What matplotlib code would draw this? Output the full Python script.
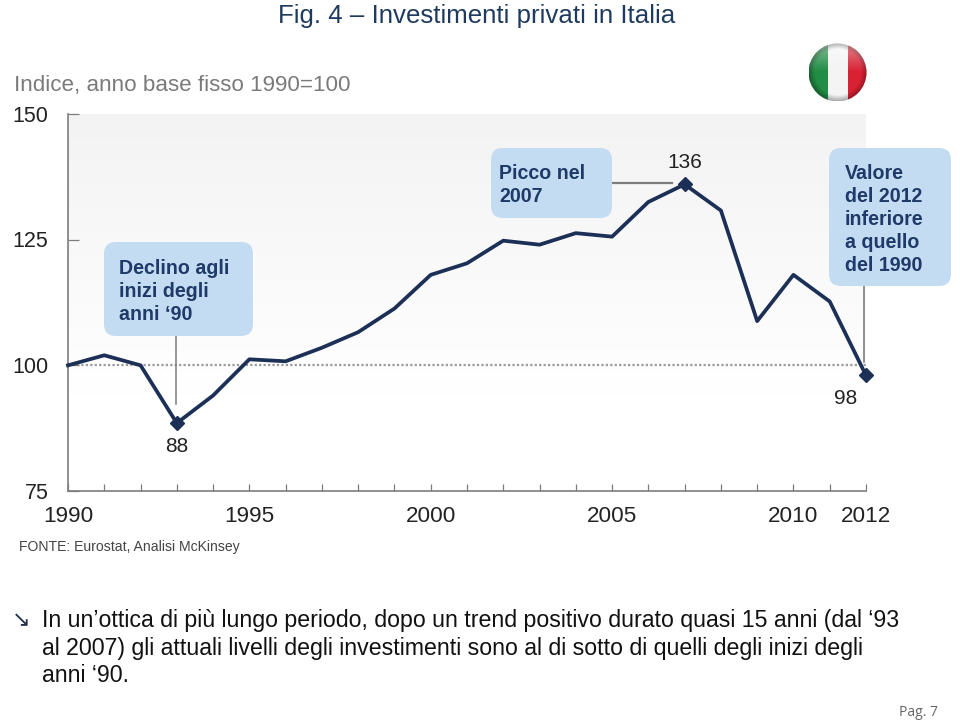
import matplotlib
matplotlib.use("Agg")
import matplotlib.pyplot as plt
import numpy as np
from matplotlib.patches import Circle, FancyBboxPatch

W, H = 960, 722

years = list(range(1990, 2013))
index_values = [100, 102, 100, 88.5, 94, 101.2, 100.8, 103.5, 106.6, 111.3, 118, 120.3,
                124.8, 124, 126.3, 125.6, 132.5, 136, 130.8, 108.8, 118, 112.7, 98]
y_ticks = [75, 100, 125, 150]
year_labels = [1990, 1995, 2000, 2005, 2010, 2012]
highlight_years = [1993, 2007, 2012]
highlight_labels = ["88", "136", "98"]

NAVY = "#1c3057"
BOX = "#c4dcf2"
BOX_TEXT = "#1f3a68"
GREY = "#7d7d7d"

plt.rcParams["font.family"] = ["Liberation Sans", "DejaVu Sans"]

fig = plt.figure(figsize=(W / 100, H / 100), dpi=100)

# plot area
ax = fig.add_axes([68 / W, 1 - 491 / H, (866 - 68) / W, (491 - 114) / H], zorder=1)
ax.set_xlim(1990, 2012)
ax.set_ylim(75, 150)
grad = np.linspace(0, 1, 256).reshape(-1, 1)
bg = matplotlib.colors.LinearSegmentedColormap.from_list("bg", ["#f3f3f3", "#ffffff"])
ax.imshow(grad, cmap=bg, extent=(1990, 2012, 75, 150), aspect="auto", origin="upper",
          vmin=0, vmax=0.75, zorder=0)

ax.axhline(100, color="#9a9a9a", linestyle=(0, (1, 1)), linewidth=1.6, zorder=1)
ax.plot(years, index_values, color=NAVY, linewidth=2.7, zorder=3, solid_joinstyle="round", clip_on=False)
hx = highlight_years
hy = [index_values[years.index(v)] for v in hx]
ax.plot(hx, hy, linestyle="none", marker="D", color=NAVY, markersize=7, zorder=4, clip_on=False)

for s in ["top", "right"]:
    ax.spines[s].set_visible(False)
for s in ["left", "bottom"]:
    ax.spines[s].set_color(GREY)
    ax.spines[s].set_linewidth(1.2)
ax.set_xticks(years)
ax.set_xticklabels([])
ax.set_yticks(y_ticks)
ax.set_yticklabels([])
ax.tick_params(axis="x", direction="in", length=5, width=0.9, color=GREY)
ax.tick_params(axis="y", direction="in", length=8, width=0.9, color=GREY)

for v in y_ticks:
    ax.annotate(str(v), xy=(0, v), xycoords=ax.get_yaxis_transform(), xytext=(-14, -1.5),
                textcoords="offset points", ha="right", va="center", fontsize=15.5, color="#222222")
for v in year_labels:
    ax.annotate(str(v), xy=(v, 0), xycoords=ax.get_xaxis_transform(), xytext=(0, -18.5),
                textcoords="offset points", ha="center", va="center", fontsize=16.2, color="#222222")

# value labels
offsets = [(0, -17), (0, 16), (-14.5, -17)]
for x, y, txt, off in zip(hx, hy, highlight_labels, offsets):
    ax.annotate(txt, xy=(x, y), xytext=off, textcoords="offset points", ha="center", va="center",
                fontsize=15, color="#222222", zorder=5)

# overlay in pixel coordinates for everything round the chart
page = fig.add_axes([0, 0, 1, 1], zorder=2)
page.patch.set_alpha(0)
page.axis("off")

# leader lines
page.plot([176, 176], [335, 404], color=GREY, linewidth=1.1)
page.plot([612, 672], [183, 183], color=GREY, linewidth=1.6)
page.plot([864, 864], [285, 362], color=GREY, linewidth=1.2)


def callout(x0, y0, x1, y1, lines, tx, ty):
    page.add_patch(FancyBboxPatch((x0 + 12, y0 + 12), x1 - x0 - 24, y1 - y0 - 24,
                                  boxstyle="round,pad=12,rounding_size=12",
                                  facecolor=BOX, edgecolor="none", zorder=6))
    page.text(tx, ty, "\n".join(lines), fontsize=14.1, fontweight="bold", color=BOX_TEXT,
              ha="left", va="top", linespacing=1.26, zorder=7)


callout(104, 242, 253, 336, ["Declino agli", "inizi degli", "anni ‘90"], 119, 259)
callout(491, 148, 612, 218, ["Picco nel", "2007"], 499, 164)
callout(829, 148, 951, 286, ["Valore", "del 2012", "inferiore", "a quello", "del 1990"], 845, 164)

# flag
clip = Circle((837.5, 72.5), 29, transform=page.transData)
flag = np.array([[[0.13, 0.55, 0.27], [0.96, 0.96, 0.96], [0.85, 0.13, 0.2]]])
im = page.imshow(flag, extent=(808.5, 866.5, 101.5, 43.5), aspect="auto", interpolation="nearest", zorder=6)
im.set_clip_path(clip)
# gloss on the upper half and a soft rim
gy, gx = np.mgrid[-1:1:128j, -1:1:128j]
rr = np.hypot(gx, gy)
rim = np.clip((rr - 0.8) / 0.2, 0, 1) * 0.3
gloss = np.clip(-gy, 0, 1) * 0.45
layer = np.zeros((128, 128, 4))
layer[..., :3] = (gloss / (gloss + rim + 1e-6))[..., None]
layer[..., 3] = np.clip(gloss + rim, 0, 1)
im2 = page.imshow(layer, extent=(808.5, 866.5, 101.5, 43.5), aspect="auto", zorder=7)
im2.set_clip_path(clip)
page.set_xlim(0, W)
page.set_ylim(H, 0)

# page texts
page.text(477, 16, "Fig. 4 – Investimenti privati in Italia", fontsize=18.65, color="#1f3a5f",
          ha="center", va="center")
page.text(14, 85, "Indice, anno base fisso 1990=100", fontsize=16.1, color="#7a7a7a", ha="left", va="center")
page.text(19, 547, "FONTE: Eurostat, Analisi McKinsey", fontsize=10.1, color="#444444", ha="left", va="center")

page.text(21, 620, "↘", fontsize=16, color="#1f2f46", ha="center", va="center", family="DejaVu Sans")
body = ["In un’ottica di più lungo periodo, dopo un trend positivo durato quasi 15 anni (dal ‘93",
        "al 2007) gli attuali livelli degli investimenti sono al di sotto di quelli degli inizi degli",
        "anni ‘90."]
for line, y in zip(body, [621, 648, 676]):
    page.text(42, y, line, fontsize=16.65, color="#111111", ha="left", va="center")
page.text(938, 712, "Pag. 7", fontsize=10, color="#666666", ha="right", va="center", family="Open Sans")

fig.savefig("out.png", dpi=100)
